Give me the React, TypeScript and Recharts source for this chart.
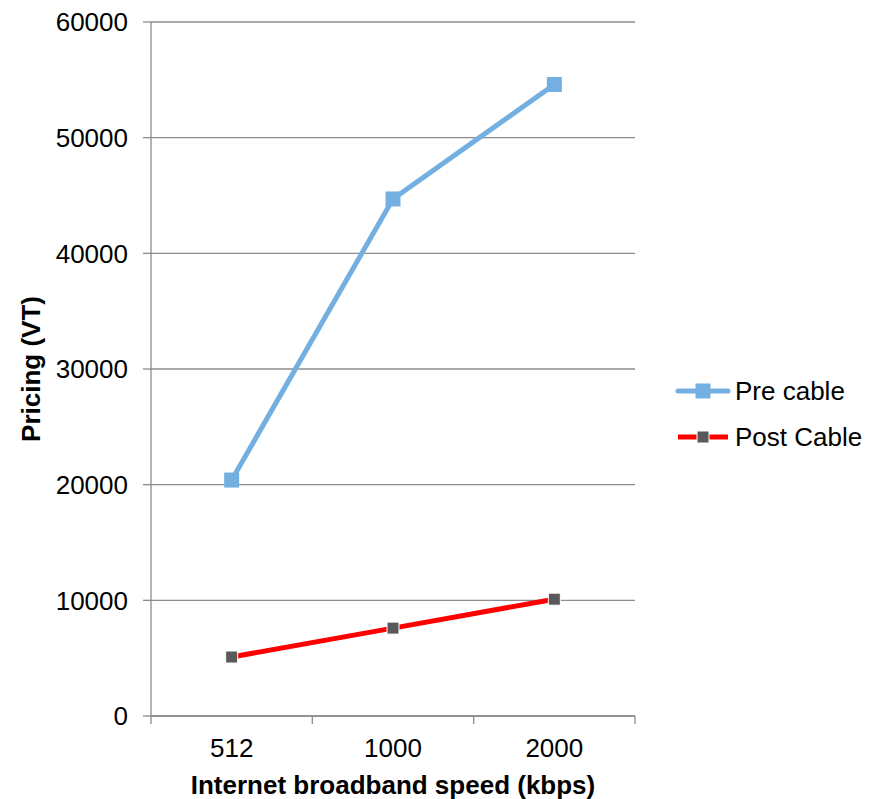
import React from "react";
import {
  LineChart,
  Line,
  XAxis,
  YAxis,
  CartesianGrid,
} from "recharts";

const categories = ["512", "1000", "2000"];
const preCable = [20400, 44700, 54600];
const postCable = [5100, 7600, 10100];
const yTicks = [0, 10000, 20000, 30000, 40000, 50000, 60000];
const xTicks = [0, 0.5, 1, 1.5, 2, 2.5, 3];

const seriesNames = ["Pre cable", "Post Cable"];
const seriesColors = ["#74afe2", "#ff0000"];
const markerColors = ["#74afe2", "#595959"];

const axisColor = "#8c8c8c";
const font = "Arial, 'Liberation Sans', sans-serif";

const data = categories.map((label, i) => ({
  pos: i + 0.5,
  label,
  pre: preCable[i],
  post: postCable[i],
}));

function XTick(props: any) {
  const { x, y, payload } = props;
  const v = payload.value as number;
  if (Number.isInteger(v)) {
    return (
      <g>
        <line x1={x} x2={x} y1={y - 8} y2={y} stroke={axisColor} strokeWidth={1.3} />
      </g>
    );
  }
  return (
    <g>
      <text
        x={x}
        y={y + 15}
        dy="0.71em"
        textAnchor="middle"
        fontSize={26}
        fontFamily={font}
        fill="#000"
      >
        {categories[Math.floor(v)]}
      </text>
    </g>
  );
}

function squareDot(size: number, fill: string, stroke?: string) {
  return (props: any) => {
    const { cx, cy, index } = props;
    if (cx == null || cy == null) return <g key={index} />;
    return (
      <rect
        key={index}
        x={cx - size / 2}
        y={cy - size / 2}
        width={size}
        height={size}
        fill={fill}
        stroke={stroke ?? "none"}
        strokeWidth={stroke ? 1 : 0}
      />
    );
  };
}

function LegendBox() {
  return (
    <div style={{ position: "absolute", left: 675, top: 368, fontFamily: font }}>
      {seriesNames.map((name, i) => (
        <div
          key={name}
          style={{ display: "flex", alignItems: "center", height: 46, marginTop: i === 0 ? 0 : 0 }}
        >
          <svg width={56} height={20} style={{ display: "block" }}>
            <line
              x1={3}
              x2={53}
              y1={10}
              y2={10}
              stroke={seriesColors[i]}
              strokeWidth={5}
              strokeLinecap={i === 0 ? "round" : "butt"}
            />
            {i === 0 ? (
              <rect x={20.5} y={2.5} width={15} height={15} fill={markerColors[i]} />
            ) : (
              <rect x={22} y={4} width={12} height={12} fill={markerColors[i]} stroke="#fff" strokeWidth={1} />
            )}
          </svg>
          <span style={{ fontSize: 26, marginLeft: 4, color: "#000", lineHeight: "46px" }}>{name}</span>
        </div>
      ))}
    </div>
  );
}

export default function App() {
  return (
    <div style={{ position: "absolute", left: 0, top: 0, width: 879, height: 799, background: "#fff" }}>
      <LineChart
        width={879}
        height={799}
        data={data}
        margin={{ top: 22, right: 244, bottom: 0, left: 0 }}
      >
        <CartesianGrid vertical={false} stroke={axisColor} strokeWidth={1.3} />
        <XAxis
          dataKey="pos"
          type="number"
          domain={[0, 3]}
          ticks={xTicks}
          interval={0}
          height={83}
          tickSize={8}
          tickMargin={0}
          tickLine={false}
          axisLine={{ stroke: axisColor, strokeWidth: 1.3 }}
          tick={<XTick />}
          label={{
            value: "Internet broadband speed (kbps)",
            position: "insideBottom",
            offset: 5,
            style: { fontSize: 26, fontWeight: "bold", fill: "#000", fontFamily: font },
          }}
        />
        <YAxis
          type="number"
          domain={[0, 60000]}
          ticks={yTicks}
          interval={0}
          width={151}
          tickSize={8}
          tickMargin={15}
          axisLine={{ stroke: axisColor, strokeWidth: 1.3 }}
          tickLine={{ stroke: axisColor, strokeWidth: 1.3 }}
          tick={{ fontSize: 26, fill: "#000", fontFamily: font }}
          label={{
            value: "Pricing (VT)",
            angle: -90,
            position: "insideLeft",
            offset: 31,
            style: { fontSize: 26, fontWeight: "bold", fill: "#000", fontFamily: font, textAnchor: "middle" },
          }}
        />
        <Line
          type="linear"
          dataKey="pre"
          name={seriesNames[0]}
          stroke={seriesColors[0]}
          strokeWidth={5}
          dot={squareDot(15, markerColors[0])}
          activeDot={false}
          isAnimationActive={false}
        />
        <Line
          type="linear"
          dataKey="post"
          name={seriesNames[1]}
          stroke={seriesColors[1]}
          strokeWidth={5}
          dot={squareDot(12, markerColors[1], "#ffffff")}
          activeDot={false}
          isAnimationActive={false}
        />
      </LineChart>
      <LegendBox />
    </div>
  );
}
